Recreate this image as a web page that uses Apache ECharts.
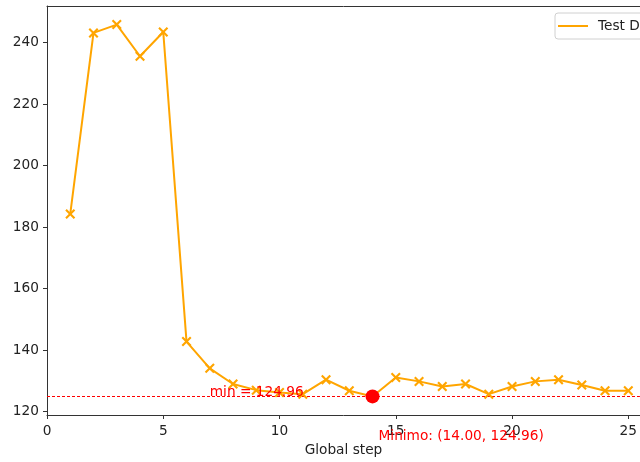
<!DOCTYPE html>
<html>
<head>
<meta charset="utf-8">
<title>Test Data</title>
<script src="https://cdn.jsdelivr.net/npm/echarts@6/dist/echarts.min.js"></script>
<style>
  html, body { margin: 0; padding: 0; background: #fff; }
  #chart { width: 640px; height: 462px; }
</style>
</head>
<body>
<div id="chart"></div>
<script>
// Loss per global step
const steps = [1, 2, 3, 4, 5, 6, 7, 8, 9, 10, 11, 12, 13, 14, 15, 16, 17, 18, 19, 20, 21, 22, 23, 24, 25];
const testValues = [184.3, 243.2, 245.9, 235.6, 243.5, 142.8, 134.1, 129.0, 127.0, 126.2, 125.7, 130.4, 126.8, 124.96,
  131.1, 129.85, 128.2, 129.0, 125.7, 128.2, 129.85, 130.4, 128.65, 126.8, 126.8];
const xTicks = [0, 5, 10, 15, 20, 25];
const yTicks = [120, 140, 160, 180, 200, 220, 240];
const seriesName = 'Test Data';

// location of the minimum
let minIdx = 0;
testValues.forEach((v, i) => { if (v < testValues[minIdx]) minIdx = i; });
const minStep = steps[minIdx];
const minVal = testValues[minIdx];

// axis limits with a 5% margin around the data range
const span = Math.max(...testValues) - minVal;
const yMin = minVal - 0.05 * span;
const yMax = Math.max(...testValues) + 0.05 * span;

// "x" marker drawn as a filled outline
const xMarker = 'path://M0,1.5L1.5,0L5,3.5L8.5,0L10,1.5L6.5,5L10,8.5L8.5,10L5,6.5L1.5,10L0,8.5L3.5,5Z';

const orange = '#FFA500';
const red = '#ff0000';
const font = 'DejaVu Sans';
const fs = 13.7;
const ink = '#222';

const chart = echarts.init(document.getElementById('chart'), null, { renderer: 'canvas' });
chart.setOption({
  animation: false,
  backgroundColor: '#fff',
  textStyle: { fontFamily: font },
  grid: { left: 47, top: 6, right: 0, height: 410, show: false },
  legend: {
    data: [{ name: seriesName, icon: 'rect' }],
    left: 555, top: 13,
    orient: 'vertical',
    itemWidth: 30, itemHeight: 2, itemGap: 4,
    padding: [6, 8, 6, 3],
    backgroundColor: '#fff',
    borderColor: '#d0d0d0', borderWidth: 1, borderRadius: 3,
    textStyle: { fontFamily: font, fontSize: fs, color: ink, padding: [0, 0, 0, 5] }
  },
  xAxis: [
    {
      type: 'value', min: 0, max: 25.5,
      name: 'Global step', nameLocation: 'middle', nameGap: 28,
      nameTextStyle: { fontFamily: font, fontSize: fs, color: ink },
      axisLine: { show: true, onZero: false, lineStyle: { color: '#333' } },
      axisTick: { show: true, length: 4, lineStyle: { color: '#333' }, customValues: xTicks },
      axisLabel: { fontFamily: font, fontSize: fs, color: ink, margin: 9, customValues: xTicks },
      splitLine: { show: false }
    },
    {
      // top frame line
      type: 'value', min: 0, max: 25.5, position: 'top',
      axisLine: { show: true, onZero: false, lineStyle: { color: '#333' } },
      axisTick: { show: false }, axisLabel: { show: false }, splitLine: { show: false }
    }
  ],
  yAxis: {
    type: 'value', min: yMin, max: yMax,
    axisLine: { show: true, onZero: false, lineStyle: { color: '#333' } },
    axisTick: { show: true, length: 4, lineStyle: { color: '#333' }, customValues: yTicks },
    axisLabel: { fontFamily: font, fontSize: fs, color: ink, margin: 8, customValues: yTicks },
    splitLine: { show: false }
  },
  series: [
    {
      name: seriesName,
      type: 'line',
      data: steps.map((s, i) => [s, testValues[i]]),
      color: orange,
      lineStyle: { color: orange, width: 2 },
      symbol: xMarker,
      symbolSize: 10,
      showSymbol: true,
      itemStyle: { color: orange },
      z: 3
    },
    {
      name: 'minimum',
      type: 'scatter',
      data: [[minStep, minVal]],
      symbol: 'circle',
      symbolSize: 14,
      itemStyle: { color: red, opacity: 1 },
      z: 5,
      markLine: {
        silent: true,
        symbol: 'none',
        label: { show: false },
        itemStyle: { color: red },
        lineStyle: { color: red, type: [3, 2], width: 1, opacity: 1 },
        data: [{ yAxis: minVal, lineStyle: { color: red, type: [3, 2], width: 1 } }],
        z: 2
      },
      markPoint: {
        silent: true,
        symbol: 'circle',
        symbolSize: 0,
        data: [
          {
            coord: [7, minVal],
            label: {
              show: true, position: [0, 0], align: 'left', verticalAlign: 'bottom', offset: [0, 3],
              formatter: 'min = ' + minVal.toFixed(2),
              fontFamily: font, fontSize: fs, color: red
            }
          },
          {
            coord: [minStep, minVal],
            label: {
              show: true, position: [0, 0], align: 'left', verticalAlign: 'middle', offset: [6, 40],
              formatter: 'Minimo: (' + minStep.toFixed(2) + ', ' + minVal.toFixed(2) + ')',
              fontFamily: font, fontSize: fs, color: red
            }
          }
        ],
        z: 6
      }
    }
  ]
});
</script>
</body>
</html>
